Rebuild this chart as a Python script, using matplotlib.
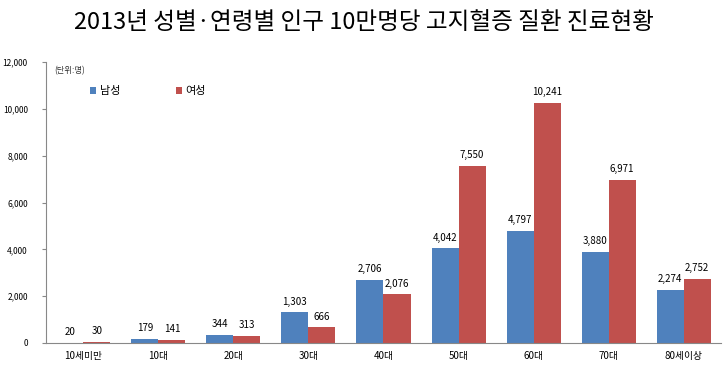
import matplotlib
matplotlib.use('Agg')
import matplotlib.pyplot as plt
import numpy as np
from matplotlib.ticker import FuncFormatter

plt.rcParams['font.family'] = ['Noto Sans CJK KR', 'DejaVu Sans']

categories = ['10세미만', '10대', '20대', '30대', '40대', '50대', '60대', '70대', '80세이상']
male = [20, 179, 344, 1303, 2706, 4042, 4797, 3880, 2274]
female = [30, 141, 313, 666, 2076, 7550, 10241, 6971, 2752]

blue = '#4F81BD'
red = '#C0504D'

fig = plt.figure(figsize=(7.27, 3.7), dpi=100)
ax = fig.add_axes([0.063, 0.073, 0.929, 0.759])

x = np.arange(len(categories))
w = 0.36
b1 = ax.bar(x - w / 2, male, w, color=blue, label='남성')
b2 = ax.bar(x + w / 2, female, w, color=red, label='여성')

for bars in (b1, b2):
    for b in bars:
        ax.text(b.get_x() + b.get_width() / 2, b.get_height() + 250,
                f'{int(b.get_height()):,}', ha='center', va='bottom', fontsize=7)

ax.set_xlim(-0.5, len(categories) - 0.5)
ax.set_ylim(0, 12000)
ax.set_yticks(range(0, 12001, 2000))
ax.yaxis.set_major_formatter(FuncFormatter(lambda v, p: f'{int(v):,}'))
ax.set_xticks(x)
ax.set_xticklabels(categories, fontsize=7)
ax.tick_params(axis='y', labelsize=6, length=3, color='#888888', pad=10)
ax.tick_params(axis='x', length=0, pad=6)
for s in ('top', 'right'):
    ax.spines[s].set_visible(False)
ax.spines['left'].set_color('#888888')
ax.spines['bottom'].set_color('#888888')

ax.text(0.013, 0.985, '(단위:명)', transform=ax.transAxes, fontsize=6, va='top', color='#333333')
ax.legend(loc='upper left', bbox_to_anchor=(0.05, 0.95), ncol=2, frameon=False,
          fontsize=8, handlelength=0.6, handleheight=0.6, columnspacing=5, handletextpad=0.3)

fig.text(0.5, 0.94, '2013년 성별·연령별 인구 10만명당 고지혈증 질환 진료현황',
         ha='center', va='center', fontsize=17)

fig.savefig('out.png', dpi=100)
